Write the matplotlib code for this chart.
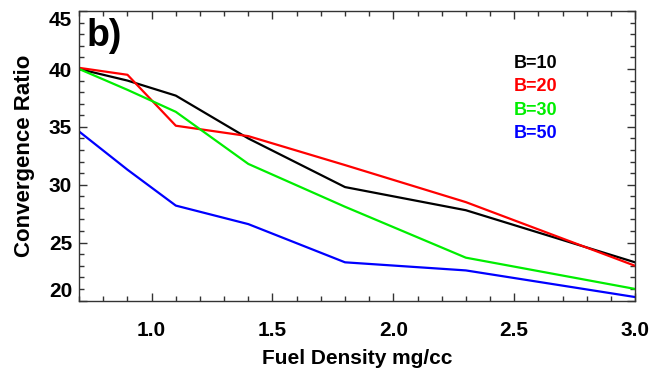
import matplotlib.pyplot as plt
from matplotlib.ticker import MultipleLocator

plt.rcParams['font.family'] = ['Liberation Sans', 'DejaVu Sans']
plt.rcParams['font.weight'] = 'bold'

# fuel density (mg/cc)
density = [0.7, 0.9, 1.1, 1.4, 1.8, 2.3, 3.0]

# convergence ratio per B-field
cr_b10 = [40.0, 39.0, 37.7, 34.0, 29.8, 27.8, 23.3]
cr_b20 = [40.1, 39.5, 35.1, 34.2, 31.7, 28.5, 23.0]
cr_b30 = [40.0, 38.2, 36.3, 31.8, 28.1, 23.7, 21.0]
cr_b50 = [34.6, 31.3, 28.2, 26.6, 23.3, 22.6, 20.3]

labels = ["B=10", "B=20", "B=30", "B=50"]
colors = ["black", "#ff0000", "#00ee00", "#0000ff"]
series = [cr_b10, cr_b20, cr_b30, cr_b50]

fig = plt.figure(figsize=(6.54, 3.71), dpi=100)
ax = fig.add_axes([0.121, 0.19, 0.850, 0.780])

for vals, c in zip(series, colors):
    ax.plot(density, vals, color=c, lw=1.6)

ax.set_xlim(0.7, 3.0)
ax.set_ylim(20, 45)
ax.xaxis.set_major_locator(MultipleLocator(0.5))
ax.xaxis.set_minor_locator(MultipleLocator(0.1))
ax.yaxis.set_major_locator(MultipleLocator(5))
ax.yaxis.set_minor_locator(MultipleLocator(1))
ax.tick_params(which='both', direction='in', top=True, right=True, color='#333333')
ax.tick_params(which='major', length=6, width=1)
ax.tick_params(which='minor', length=3.5, width=1)
ax.tick_params(axis='x', labelsize=15, pad=15)
ax.tick_params(axis='y', labelsize=15, pad=5)
for s in ax.spines.values():
    s.set_color('#333333')
    s.set_linewidth(1)

ax.set_xlabel("Fuel Density mg/cc", fontsize=15, fontweight='bold', labelpad=6)
ax.set_ylabel("Convergence Ratio", fontsize=16, fontweight='bold', labelpad=10)

ax.text(0.014, 0.975, "b)", transform=ax.transAxes, fontsize=27,
        fontweight='bold', va='top', ha='left')

for i, (lab, c) in enumerate(zip(labels, colors)):
    ax.text(0.782, 0.82 - i * 0.081, lab, transform=ax.transAxes, color=c,
            fontsize=13, fontweight='bold', va='center', ha='left')

# IDL-style end labels nudged inside the axis range
fig.canvas.draw()
for t in ax.yaxis.get_major_ticks():
    if abs(t.get_loc() - 45) < 1e-6:
        t.label1.set_va('top')
    elif abs(t.get_loc() - 20) < 1e-6:
        t.label1.set_va('bottom')

fig.savefig("out.png", dpi=100)
